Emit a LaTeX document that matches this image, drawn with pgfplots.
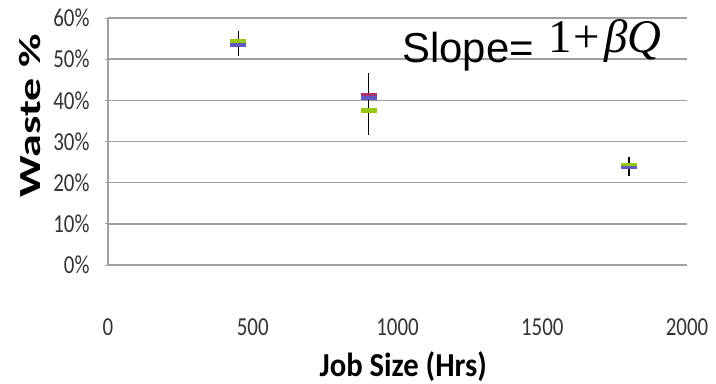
\documentclass[border=0pt]{standalone}
\usepackage{pgfplots}
\pgfplotsset{compat=1.18}
\usepackage{fontspec}
\setmainfont{Carlito}
\newfontfamily\arialf{Liberation Sans}
\newfontfamily\timesf{Liberation Serif}
\definecolor{gridgray}{RGB}{160,160,160}
\definecolor{mgreen}{RGB}{150,200,20}
\definecolor{mblue}{RGB}{95,90,195}
\definecolor{mmag}{RGB}{170,50,110}
\newcommand{\tl}[1]{\scalebox{1.05}[1.3]{#1}}
\begin{document}
\begin{tikzpicture}
\useasboundingbox (-108bp,-119bp) rectangle (608bp,265bp);
\begin{axis}[
  scale only axis, width=579bp, height=247bp,
  at={(0,0)}, anchor=south west,
  xmin=0, xmax=2000, ymin=0, ymax=60,
  axis x line*=bottom, axis y line*=left,
  axis line style={gridgray, line width=1.2bp},
  xtick={0,500,1000,1500,2000},
  xticklabels={\tl{0},\tl{500},\tl{1000},\tl{1500},\tl{2000}},
  ytick={0,10,20,30,40,50,60},
  yticklabels={\tl{0\%},\tl{10\%},\tl{20\%},\tl{30\%},\tl{40\%},\tl{50\%},\tl{60\%}},
  ymajorgrids, grid style={gridgray, line width=1.5bp},
  major x tick style={draw=none},
  major y tick style={gridgray, line width=1bp},
  major tick length=5bp,
  y tick style={xshift=-2.5bp},
  tick label style={font=\fontsize{20}{20}\selectfont, text=black!80},
  yticklabel style={xshift=-15bp},
  xticklabel style={yshift=-50bp},
  ylabel={\scalebox{1.65}[1.1]{\fontsize{28}{28}\selectfont\bfseries Waste \%}},
  ylabel style={at={(axis description cs:-0.135,0.605)}, anchor=center, rotate=0},
  xlabel={\scalebox{1.1}[1.2]{\fontsize{28}{28}\selectfont\bfseries Job Size (Hrs)}},
  xlabel style={at={(axis description cs:0.51,-0.41)}, anchor=center},
  clip=false,
]
% markers (short bars)
\addplot[only marks, mark=-, mark size=8bp, mark options={mgreen, line width=4.5bp}]
  coordinates {(450,54.4) (900,37.5) (1800,24.2)};
\addplot[only marks, mark=-, mark size=8bp, mark options={mblue, line width=3.5bp}]
  coordinates {(450,53.5) (900,40.6) (1800,23.7)};
\addplot[only marks, mark=-, mark size=8bp, mark options={mmag, line width=3bp}]
  coordinates {(900,41.4)};
% error bars
\addplot[draw=none, mark=none, forget plot,
  error bars/.cd, y dir=both, y explicit, error mark=none,
  error bar style={black, line width=1.3bp}]
  coordinates {(450,53.8) +- (0,3.0) (900,39.1) +- (0,7.5) (1800,24.0) +- (0,2.3)};
\node[anchor=base west, inner sep=0pt, font=\arialf\fontsize{42}{42}\selectfont]
  at (axis cs:1016,49.1) {Slope=};
\node[anchor=base west, inner sep=0pt, font=\timesf\fontsize{47}{47}\selectfont]
  at (axis cs:1522,51.6) {1\kern1bp+\kern5bp\textit{βQ}};
\end{axis}
\end{tikzpicture}
\end{document}
